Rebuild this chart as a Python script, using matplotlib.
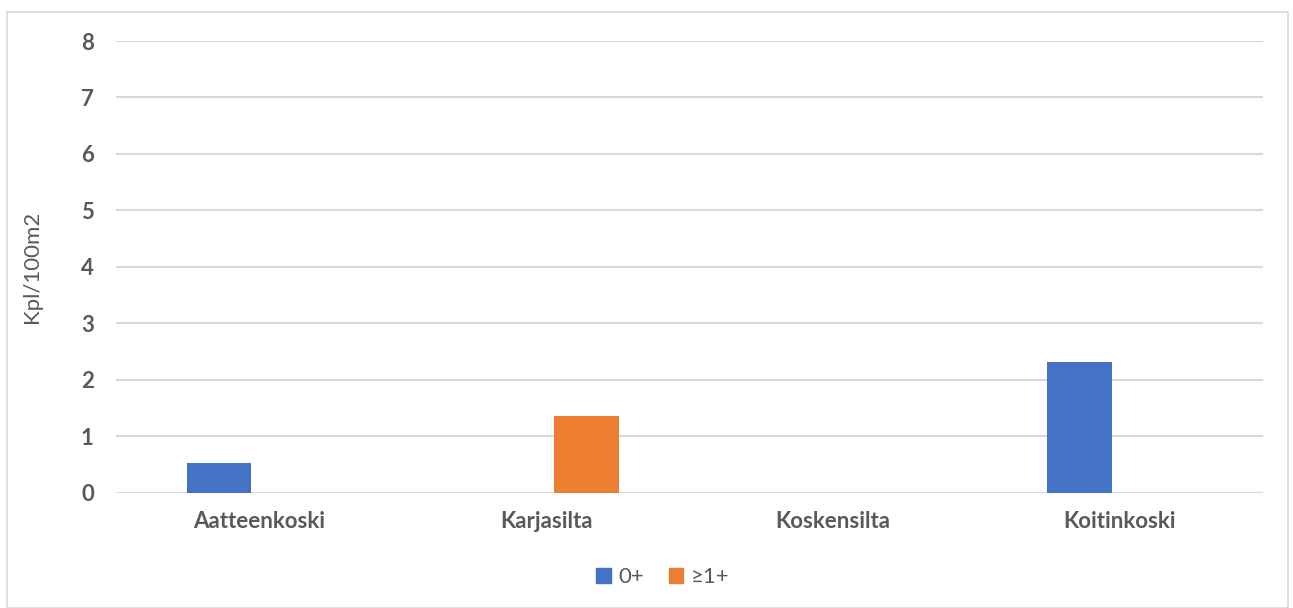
import matplotlib
matplotlib.use("Agg")
import matplotlib.pyplot as plt
import numpy as np
from matplotlib.patches import Rectangle, Patch

categories = ["Aatteenkoski", "Karjasilta", "Koskensilta", "Koitinkoski"]
series_names = ["0+", "≥1+"]
values_0 = [0.53, 0.0, 0.0, 2.32]
values_1 = [0.0, 1.35, 0.0, 0.0]
colors = ["#4472C4", "#ED7D31"]
yticks = [0, 1, 2, 3, 4, 5, 6, 7, 8]

plt.rcParams['font.family'] = ['Lato', 'DejaVu Sans']
txt = "#595959"

fig = plt.figure(figsize=(12.93, 6.08), dpi=100)
ax = fig.add_axes([116/1293, 1 - 492.7/608, (1263-116)/1293, (492.7-41)/608])

x = np.arange(len(categories))
w = 0.225
off = 0.14
ax.bar(x - off, values_0, w, color=colors[0], zorder=3)
ax.bar(x + off, values_1, w, color=colors[1], zorder=3)

ax.set_xlim(-0.5, len(categories) - 0.5)
ax.set_ylim(0, 8)
ax.set_yticks(yticks)
ax.set_yticklabels([str(t) for t in yticks], fontsize=16, fontweight='bold', color=txt)
ax.set_xticks(x)
ax.set_xticklabels(categories, fontsize=16, fontweight='bold', color=txt)
ax.tick_params(axis='both', length=0)
ax.tick_params(axis='y', pad=16)
ax.tick_params(axis='x', pad=13)
ax.grid(axis='y', color='#D9D9D9', linewidth=1.5, zorder=0)
for s in ax.spines.values():
    s.set_visible(False)
ax.set_ylabel("Kpl/100m2", fontsize=16, color=txt)
ax.yaxis.set_label_coords(-(116-42)/1147, 0.5)

handles = [Patch(color=c) for c in colors]
fig.legend(handles, series_names, loc='center', bbox_to_anchor=(663/1293, 1 - 577/608),
           ncol=2, frameon=False, fontsize=16, labelcolor=txt,
           handlelength=0.65, handleheight=0.65, handletextpad=0.35, columnspacing=1.1)

fig.patches.append(Rectangle((7/1293, 0), (1288-7)/1293, 1 - 11.5/608, transform=fig.transFigure,
                             fill=False, edgecolor='#D9D9D9', linewidth=1.2))

fig.savefig("out.png", dpi=100)
